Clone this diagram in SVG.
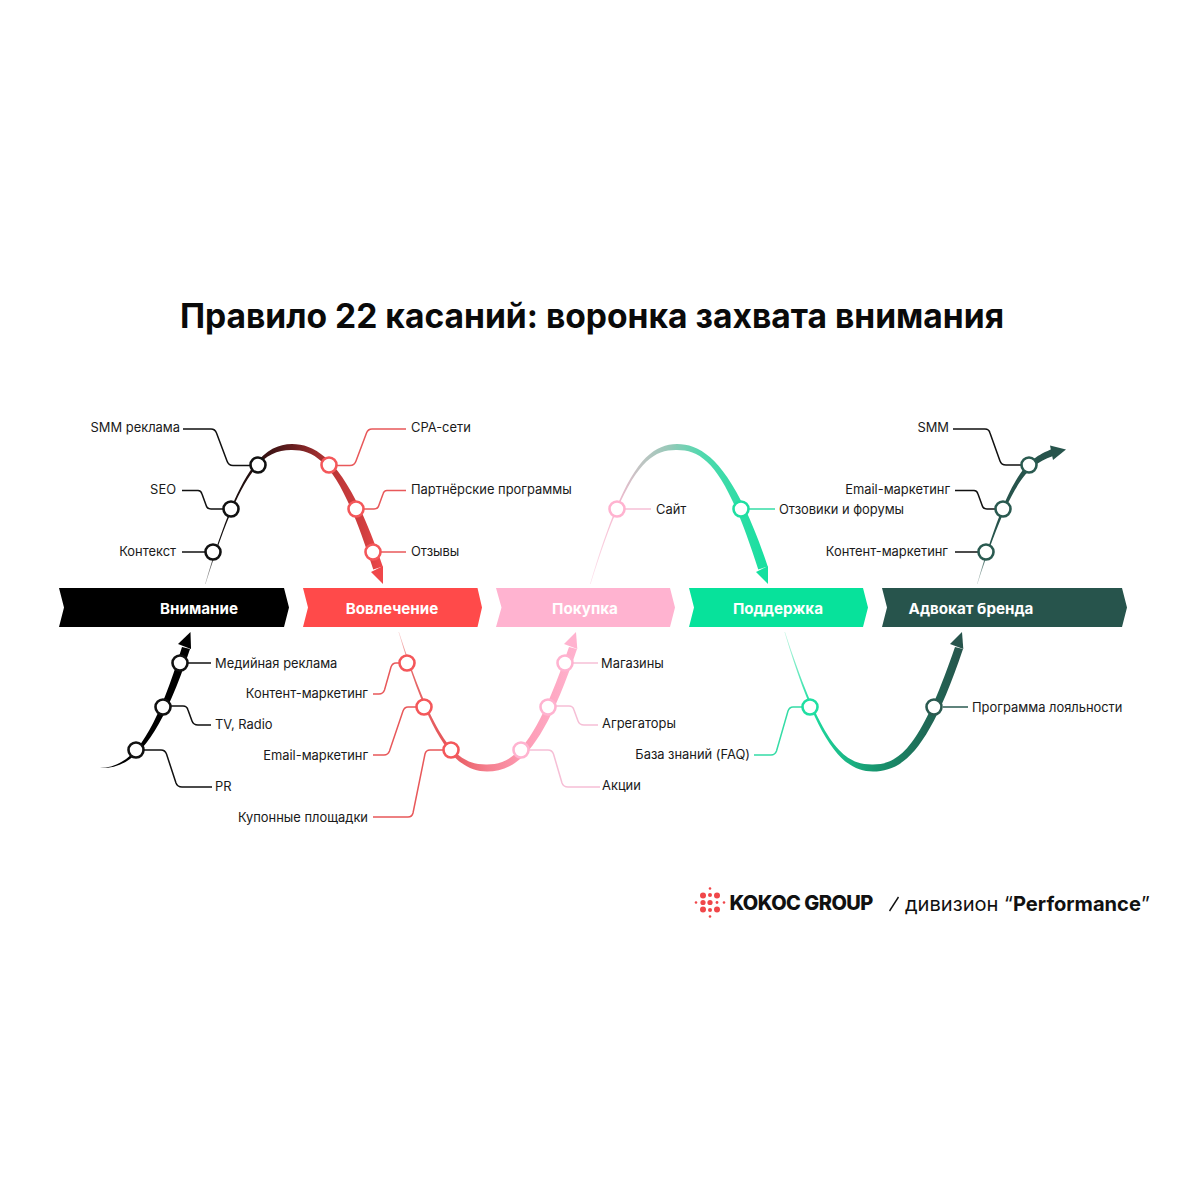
<svg xmlns="http://www.w3.org/2000/svg" width="1200" height="1200" viewBox="0 0 1200 1200">
<style>
text{font-family:"Inter","Noto Sans","Liberation Sans",sans-serif;fill:#1a1a1a}
.lb{font-size:12.9px}
.st{font-size:15.2px;font-weight:700;fill:#fff;text-anchor:middle}
.e{text-anchor:end}
.ttl{font-size:33.6px;font-weight:700;fill:#0a0a0a;text-anchor:middle}
.ld{fill:none;stroke-width:1.5}
.n{fill:#fff;stroke-width:2.6}
.k{stroke:#111}.r{stroke:#e8585a}.p{stroke:#f6bfd6}.g{stroke:#35dca6}.d{stroke:#2a5a50}
.nr{stroke:#f4575a}.np{stroke:#ffb3d0}.ng{stroke:#1fdfa2}
.dot{fill:#f0474a}
</style>
<defs>
<linearGradient id="g1" gradientUnits="userSpaceOnUse" x1="205" y1="0" x2="383" y2="0">
<stop offset="0" stop-color="#c8c8c8"/><stop offset=".06" stop-color="#111"/><stop offset=".3" stop-color="#2a0f0f"/><stop offset=".5" stop-color="#6a1f20"/><stop offset=".7" stop-color="#b83435"/><stop offset=".9" stop-color="#d23f40"/><stop offset="1" stop-color="#f0474a"/>
</linearGradient>
<linearGradient id="g3" gradientUnits="userSpaceOnUse" x1="399" y1="0" x2="577" y2="0">
<stop offset="0" stop-color="#f8d0d0"/><stop offset=".06" stop-color="#e66a6a"/><stop offset=".28" stop-color="#e55458"/><stop offset=".5" stop-color="#f5808f"/><stop offset=".72" stop-color="#fd9db6"/><stop offset="1" stop-color="#ffb3cf"/>
</linearGradient>
<linearGradient id="g4" gradientUnits="userSpaceOnUse" x1="205" y1="0" x2="383" y2="0">
<stop offset="0" stop-color="#fde2ec"/><stop offset=".15" stop-color="#f5b8cf"/><stop offset=".27" stop-color="#c4c4c4"/><stop offset=".45" stop-color="#95c9b8"/><stop offset=".62" stop-color="#52d8ae"/><stop offset="1" stop-color="#14e09f"/>
</linearGradient>
<linearGradient id="g5" gradientUnits="userSpaceOnUse" x1="399" y1="0" x2="577" y2="0">
<stop offset="0" stop-color="#bdf5e0"/><stop offset=".14" stop-color="#1fdfa2"/><stop offset=".5" stop-color="#17976f"/><stop offset=".78" stop-color="#1f6b57"/><stop offset="1" stop-color="#27544c"/>
</linearGradient>
<linearGradient id="g6" gradientUnits="userSpaceOnUse" x1="977" y1="0" x2="1066" y2="0">
<stop offset="0" stop-color="#c5cfcd"/><stop offset=".12" stop-color="#27544c"/><stop offset="1" stop-color="#27544c"/>
</linearGradient>
<path id="arch" d="M205,584C239,469.5 262,444.5 292,444C320,444 349,466.5 382.75,566.4L373.25,569.6C341.5,469.5 320,450 292,450C262,449.5 241,470.5 205.6,584Z"/>
<path id="vall" d="M399,632C435.5,744 457,765 487,764.5C516,764.5 536.5,741.5 569,647L577,649C543.5,748.5 518,771.5 487,771.5C457,771 432.5,746 398.5,632Z"/>
</defs>
<rect width="1200" height="1200" fill="#fff"/>
<text class="ttl" x="592" y="328" id="title">Правило 22 касаний: воронка захвата внимания</text>

<g id="stages">
<g id="stage-attention"><path fill="#000" d="M59,588H284L289,607.5L284,627H59L64,607.5Z"/><text class="st" x="199" y="613.5">Внимание</text></g>
<g id="stage-engagement"><path fill="#ff4a4a" d="M303,588H477.5L482,607.5L477.5,627H303L308,607.5Z"/><text class="st" x="392" y="613.5">Вовлечение</text></g>
<g id="stage-purchase"><path fill="#ffb3d0" d="M496,588H670L675,607.5L670,627H496L501.5,607.5Z"/><text class="st" x="585" y="613.5">Покупка</text></g>
<g id="stage-support"><path fill="#07e29b" d="M689,588H863L868,607.5L863,627H689L694,607.5Z"/><text class="st" x="778" y="613.5">Поддержка</text></g>
<g id="stage-advocate"><path fill="#27544c" d="M882,588H1122L1127,607.5L1122,627H882L887,607.5Z"/><text class="st" x="971" y="613.5">Адвокат бренда</text></g>
</g>

<g id="connectors">
<path fill="#000" d="M100,768C130,767 152.5,743 182,647L190,649C157.5,747.5 130,769 100,768Z"/>
<path fill="#000" d="M178,644L190.5,632L191,649Z"/>
<use href="#arch" fill="url(#g1)"/>
<path fill="#f0474a" d="M371,572L383,566L383,584Z"/>
<use href="#vall" fill="url(#g3)"/>
<path fill="#ffb3cf" d="M564,644L576,632L577.3,649Z"/>
<use href="#arch" transform="translate(385,0)" fill="url(#g4)"/>
<path fill="#14e09f" d="M756,572L768,566L768,584Z"/>
<use href="#vall" transform="translate(386,0)" fill="url(#g5)"/>
<path fill="#27544c" d="M950,644L962,632L963.3,649Z"/>
<path fill="url(#g6)" d="M977,584C1008.5,477.3 1024,459.6 1052.8,448.7L1055.2,455.3C1028,464.4 1011.5,478.7 977.4,584Z"/>
<path fill="#27544c" d="M1050,445.5L1066,449.5L1053,460Z"/>

<path class="ld k" d="M183,429H211Q215,429 216.5,433L227,461Q228.5,465.5 233,465.5H250"/>
<path class="ld k" d="M182,490.5H198Q201,490.5 202,494L206,505Q207,509 211,509H224"/>
<path class="ld k" d="M182,552H206"/>
<path class="ld r" d="M406,429H372Q368,429 366.5,433L356,461Q354.5,465.5 350,465.5H336"/>
<path class="ld r" d="M406,490.5H387Q384,490.5 383,494L379,505Q378,509 374,509H363"/>
<path class="ld r" d="M380,552H406"/>
<path class="ld k" d="M187,663H211"/>
<path class="ld k" d="M171,706H183Q187,706 188,710L192,721Q193.5,725 198,725H211"/>
<path class="ld k" d="M144,750H161Q165,750 166.5,754L176,783Q177.5,787 182,787H212"/>
<path class="ld r" d="M373,694H379Q383,694 384.5,690L391,667Q392.5,663 396,663H400"/>
<path class="ld r" d="M373,755H384Q388,755 389.5,751L403,711Q404.5,707 408,707H416"/>
<path class="ld r" d="M373,817H408Q412,817 413,813L425,754Q426,750 430,750H443"/>
<path class="ld p" d="M573,663H598"/>
<path class="ld p" d="M556,706H569Q573,706 574,710L578,721Q579.5,725 584,725H598"/>
<path class="ld p" d="M529,750H548Q552,750 553.5,754L562,783Q563.5,787 568,787H600"/>
<path class="ld g" d="M754,755H771Q775,755 776.5,751L788,711Q789.5,707 793,707H803"/>
<path class="ld d" d="M943,707H968"/>
<path class="ld p" d="M625,509H651"/>
<path class="ld g" d="M749,509H775"/>
<path class="ld k" d="M953,429H985Q989,429 990,433L1000,461Q1001.5,465 1006,465H1022"/>
<path class="ld k" d="M955,490.5H974Q977,490.5 978,494L982,505Q983,509 987,509H996"/>
<path class="ld k" d="M955,552H979"/>
</g>

<g id="n-smm-ad"><circle class="n k" cx="258" cy="465" r="7.5"/><text class="lb e" x="180" y="432">SMM реклама</text></g>
<g id="n-seo"><circle class="n k" cx="231" cy="509" r="7.5"/><text class="lb e" x="176" y="494">SEO</text></g>
<g id="n-context"><circle class="n k" cx="213" cy="552" r="7.5"/><text class="lb e" x="176" y="556">Контекст</text></g>
<g id="n-cpa"><circle class="n nr" cx="329" cy="465" r="7.5"/><text class="lb" x="411" y="432">CPA-сети</text></g>
<g id="n-partners"><circle class="n nr" cx="356" cy="509" r="7.5"/><text class="lb" x="411" y="494">Партнёрские программы</text></g>
<g id="n-reviews"><circle class="n nr" cx="373" cy="552" r="7.5"/><text class="lb" x="411" y="556">Отзывы</text></g>
<g id="n-media"><circle class="n k" cx="180" cy="663" r="7.5"/><text class="lb" x="215" y="668">Медийная реклама</text></g>
<g id="n-tv"><circle class="n k" cx="163" cy="707" r="7.5"/><text class="lb" x="215" y="729">TV, Radio</text></g>
<g id="n-pr"><circle class="n k" cx="136" cy="750" r="7.5"/><text class="lb" x="215" y="791">PR</text></g>
<g id="n-content-1"><circle class="n nr" cx="407" cy="663" r="7.5"/><text class="lb e" x="368" y="698">Контент-маркетинг</text></g>
<g id="n-email-1"><circle class="n nr" cx="424" cy="707" r="7.5"/><text class="lb e" x="368" y="760">Email-маркетинг</text></g>
<g id="n-coupons"><circle class="n nr" cx="451" cy="750" r="7.5"/><text class="lb e" x="368" y="822">Купонные площадки</text></g>
<g id="n-shops"><circle class="n np" cx="565" cy="663" r="7.5"/><text class="lb" x="601" y="668">Магазины</text></g>
<g id="n-aggr"><circle class="n np" cx="548" cy="707" r="7.5"/><text class="lb" x="602" y="728">Агрегаторы</text></g>
<g id="n-promo"><circle class="n np" cx="521" cy="750" r="7.5"/><text class="lb" x="602" y="790">Акции</text></g>
<g id="n-site"><circle class="n np" cx="617" cy="509" r="7.5"/><text class="lb" x="656" y="514">Сайт</text></g>
<g id="n-forums"><circle class="n ng" cx="741" cy="509" r="7.5"/><text class="lb" x="779" y="514">Отзовики и форумы</text></g>
<g id="n-faq"><circle class="n ng" cx="810" cy="707" r="7.5"/><text class="lb e" x="750" y="759">База знаний (FAQ)</text></g>
<g id="n-loyal"><circle class="n d" cx="934" cy="707" r="7.5"/><text class="lb" x="972" y="712">Программа лояльности</text></g>
<g id="n-smm"><circle class="n d" cx="1029" cy="465" r="7.5"/><text class="lb e" x="949" y="432">SMM</text></g>
<g id="n-email-2"><circle class="n d" cx="1003" cy="509" r="7.5"/><text class="lb e" x="950" y="494">Email-маркетинг</text></g>
<g id="n-content-2"><circle class="n d" cx="986" cy="552" r="7.5"/><text class="lb e" x="948" y="556">Контент-маркетинг</text></g>

<g id="logo">
<circle class="dot" cx="710" cy="888.5" r="1.3"/><circle class="dot" cx="710" cy="916.5" r="1.3"/><circle class="dot" cx="696" cy="902.5" r="1.3"/><circle class="dot" cx="724" cy="902.5" r="1.3"/>
<circle class="dot" cx="703" cy="895.5" r="3"/><circle class="dot" cx="717" cy="895.5" r="3"/><circle class="dot" cx="703" cy="909.5" r="3"/><circle class="dot" cx="717" cy="909.5" r="3"/>
<circle class="dot" cx="710" cy="895" r="2"/><circle class="dot" cx="710" cy="910" r="2"/><circle class="dot" cx="703" cy="902.5" r="2.6"/><circle class="dot" cx="710" cy="902.5" r="2.6"/><circle class="dot" cx="717" cy="902.5" r="1.4"/>
<text x="729.5" y="910" font-size="20" font-weight="800" letter-spacing="-.55" style="fill:#111">KOKOC GROUP</text>
<path d="M889.5,911L898.5,897" stroke="#111" stroke-width="1.4" fill="none"/>
<text x="905" y="911" font-size="20.1" style="fill:#111">дивизион “<tspan font-weight="700">Performance</tspan>”</text>
</g>
</svg>
